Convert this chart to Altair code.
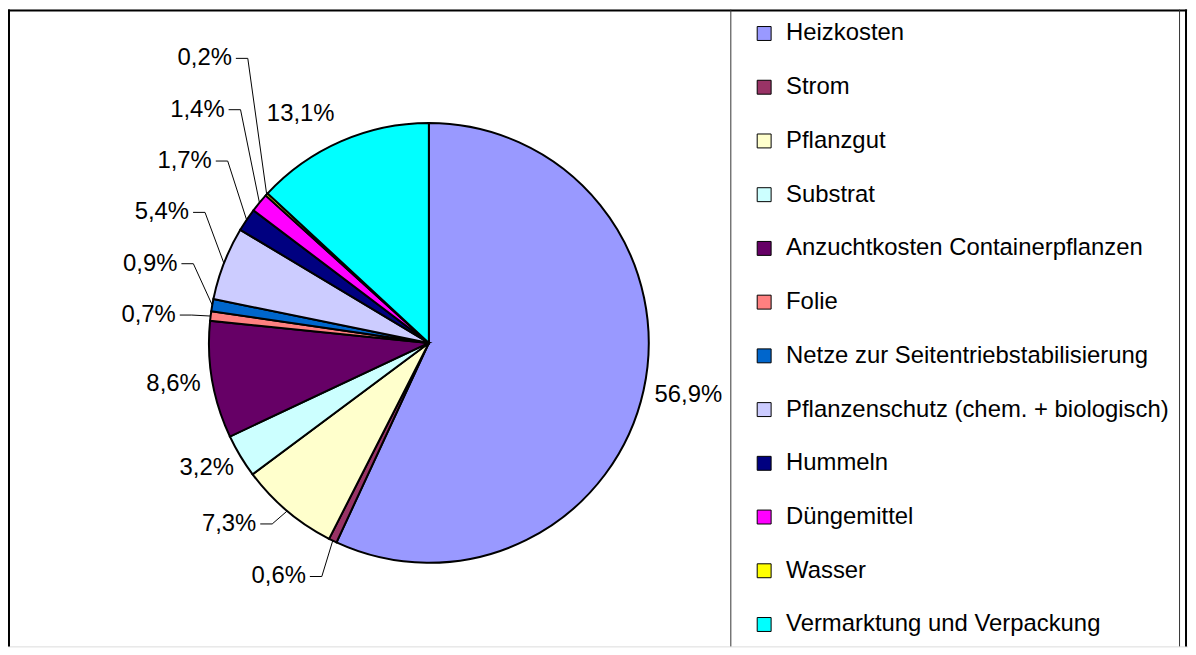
import math
import altair as alt
import pandas as pd

# ---------------- data ----------------
categories = [
    "Heizkosten",
    "Strom",
    "Pflanzgut",
    "Substrat",
    "Anzuchtkosten Containerpflanzen",
    "Folie",
    "Netze zur Seitentriebstabilisierung",
    "Pflanzenschutz (chem. + biologisch)",
    "Hummeln",
    "Düngemittel",
    "Wasser",
    "Vermarktung und Verpackung",
]
shares = [56.9, 0.6, 7.3, 3.2, 8.6, 0.7, 0.9, 5.4, 1.7, 1.4, 0.2, 13.1]
colors = [
    "#9999FF", "#993366", "#FFFFCC", "#CCFFFF", "#660066", "#FF8080",
    "#0066CC", "#CCCCFF", "#000080", "#FF00FF", "#FFFF00", "#00FFFF",
]

# ---------------- layout ----------------
W, H = 1186, 640
CX, CY, R = 423, 335, 221
FONT = "Liberation Sans"
FS = 24
GAP = 12
left_cluster = [5, 6, 7, 8, 9, 10]   # stacked labels with leader lines
STACK_STEP = 51.6
STACK_DX = -35
other_leaders = {1: (-27, 36), 2: (-31, 13)}
nudges = {11: (-22, -6)}

def text_width(s):
    w = 0.0
    for ch in s:
        if ch.isdigit():
            w += 0.556
        elif ch == ",":
            w += 0.278
        elif ch == "%":
            w += 0.889
        else:
            w += 0.5
    return w * FS

total = sum(shares)
labels = [f"{v:.1f}%".replace(".", ",") for v in shares]
mids, pts = [], []
cum = 0.0
for v in shares:
    a = (cum + v / 2) / total * 2 * math.pi
    cum += v
    ux, uy = math.sin(a), -math.cos(a)
    mids.append((ux, uy))
    pts.append((CX + R * ux, CY + R * uy))

center_rows, right_rows, line_rows = [], [], []
leader_pos = {}
base_y = pts[left_cluster[0]][1] - 1
for k, i in enumerate(left_cluster):
    leader_pos[i] = (pts[i][0] + STACK_DX, base_y - k * STACK_STEP)
for i, (dx, dy) in other_leaders.items():
    leader_pos[i] = (pts[i][0] + dx, pts[i][1] + dy)

for i, lab in enumerate(labels):
    if i in leader_pos:
        rx, ry = leader_pos[i]
        right_rows.append({"x": rx, "y": ry, "t": lab})
        line_rows += [
            {"k": i, "p": 0, "x": rx + 4, "y": ry},
            {"k": i, "p": 1, "x": rx + 16, "y": ry},
            {"k": i, "p": 2, "x": pts[i][0], "y": pts[i][1]},
        ]
    else:
        ux, uy = mids[i]
        hw, hh = text_width(lab) / 2, 12
        x = CX + (R + GAP) * ux + hw * ux
        y = CY + (R + GAP) * uy + hh * uy
        nx, ny = nudges.get(i, (0, 0))
        center_rows.append({"x": x + nx, "y": y + ny, "t": lab})

pie_df = pd.DataFrame({"cat": categories, "share": shares, "idx": list(range(len(shares)))})
xs = alt.Scale(domain=[0, W], nice=False, zero=False)
ys = alt.Scale(domain=[0, H], nice=False, zero=False, reverse=True)

pie = alt.Chart(pie_df).mark_arc(radius=R, stroke="black", strokeWidth=2).encode(
    theta=alt.Theta("share:Q", stack=True),
    color=alt.Color(
        "cat:N",
        scale=alt.Scale(domain=categories, range=colors),
        sort=categories,
        legend=alt.Legend(
            title=None, orient="none", legendX=748, legendY=12,
            symbolType="square", symbolSize=196, symbolStrokeColor="black",
            symbolStrokeWidth=1, symbolOpacity=1, labelFontSize=FS, labelFont=FONT,
            labelColor="black", rowPadding=30.0, labelOffset=10, padding=0,
            labelLimit=0,
        ),
    ),
    order=alt.Order("idx:Q", sort="ascending"),
    x=alt.value(CX),
    y=alt.value(CY),
)

lab_c = alt.Chart(pd.DataFrame(center_rows)).mark_text(
    font=FONT, fontSize=FS, color="black", align="center", baseline="middle"
).encode(x=alt.X("x:Q", scale=xs, axis=None), y=alt.Y("y:Q", scale=ys, axis=None), text="t:N")

lab_r = alt.Chart(pd.DataFrame(right_rows)).mark_text(
    font=FONT, fontSize=FS, color="black", align="right", baseline="middle"
).encode(x=alt.X("x:Q", scale=xs, axis=None), y=alt.Y("y:Q", scale=ys, axis=None), text="t:N")

leaders = alt.Chart(pd.DataFrame(line_rows)).mark_line(color="black", strokeWidth=1).encode(
    x=alt.X("x:Q", scale=xs, axis=None),
    y=alt.Y("y:Q", scale=ys, axis=None),
    detail="k:N",
    order=alt.Order("p:Q"),
)

def vrule(x, w, col="black"):
    return alt.Chart(pd.DataFrame({"a": [0]})).mark_rule(color=col, strokeWidth=w).encode(
        x=alt.value(x), y=alt.value(0), y2=alt.value(H)
    )

def hrule(y, x1, x2, w):
    return alt.Chart(pd.DataFrame({"a": [0]})).mark_rule(color="black", strokeWidth=w).encode(
        y=alt.value(y), x=alt.value(x1), x2=alt.value(x2)
    )

frame = [
    vrule(1, 2), hrule(1, 0, 1185, 2), vrule(1184, 2),
    vrule(726.5, 1, "#333333"), vrule(1177.5, 1, "#333333"),
]

chart = alt.layer(pie, leaders, lab_c, lab_r, *frame).properties(
    width=W, height=H, autosize=alt.AutoSizeParams(type="none"), padding=0
).configure_view(stroke=None).configure(font=FONT, background="white")

chart.save("out.html", embed_options={"renderer": "svg", "actions": False})
